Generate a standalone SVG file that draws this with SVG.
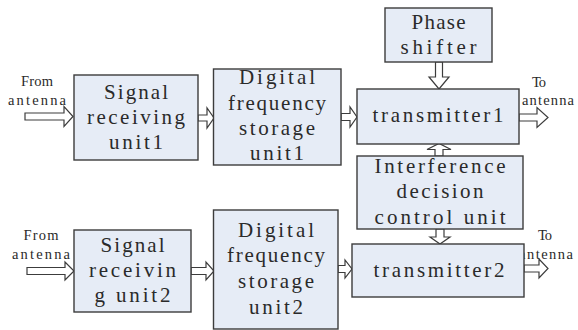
<svg xmlns="http://www.w3.org/2000/svg" width="578" height="330" viewBox="0 0 578 330">
  <style>
    .box { fill: #e6ecf6; stroke: #3c3c3c; stroke-width: 1.4; }
    .arrow { fill: #ffffff; stroke: #3c3c3c; stroke-width: 1.2; stroke-linejoin: miter; }
    .t { font-family: "Liberation Serif", "DejaVu Serif", serif; font-size: 21px; fill: #2a2a2a; text-anchor: middle; }
    .s { font-family: "Liberation Serif", "DejaVu Serif", serif; font-size: 14.5px; fill: #2a2a2a; text-anchor: middle; }
  </style>
  <rect width="578" height="330" fill="#ffffff"/>

  <!-- block arrows -->
  <g id="connectors">
    <polygon class="arrow" points="25,113 64,113 64,106.5 73,116.5 64,126.5 64,120 25,120"/>
    <polygon class="arrow" points="198,115 207,115 207,108 214,118 207,128 207,121 198,121"/>
    <polygon class="arrow" points="341,113.5 350,113.5 350,107 357,117 350,127 350,120.5 341,120.5"/>
    <polygon class="arrow" points="519,114 537,114 537,107.5 548,117.5 537,127.5 537,121 519,121"/>
    <polygon class="arrow" points="27,267.5 65,267.5 65,262 74,271 65,280 65,274.5 27,274.5"/>
    <polygon class="arrow" points="191,267.5 206,267.5 206,262 214,271 206,280 206,274.5 191,274.5"/>
    <polygon class="arrow" points="338,265.5 345,265.5 345,260 352,269 345,278 345,272.5 338,272.5"/>
    <polygon class="arrow" points="524,265 539,265 539,259 548,268.5 539,278 539,272 524,272"/>
    <!-- phase shifter down to transmitter1 -->
    <polygon class="arrow" points="435.5,62 435.5,77 429,77 439,89 449,77 442.5,77 442.5,62"/>
    <!-- interference unit up to transmitter1 -->
    <polygon class="arrow" points="435,156 435,149.5 427,149.5 439,143.5 451,149.5 443,149.5 443,156"/>
    <!-- interference unit down to transmitter2 -->
    <polygon class="arrow" points="436,229 436,237 430,237 440,244 450,237 444,237 444,229"/>
  </g>

  <g id="label-in1">
    <text class="s" x="37" y="86" textLength="32" lengthAdjust="spacing">From</text>
    <text class="s" x="37" y="105" textLength="58" lengthAdjust="spacing">antenna</text>
  </g>
  <g id="label-in2">
    <text class="s" x="41" y="240" textLength="35" lengthAdjust="spacing">From</text>
    <text class="s" x="41" y="259" textLength="58" lengthAdjust="spacing">antenna</text>
  </g>
  <g id="label-out1">
    <text class="s" x="539" y="87" textLength="14" lengthAdjust="spacing">To</text>
    <text class="s" x="548" y="105" textLength="52" lengthAdjust="spacing">antenna</text>
  </g>
  <g id="label-out2">
    <text class="s" x="545" y="240" textLength="14" lengthAdjust="spacing">To</text>
    <text class="s" x="546" y="259" textLength="54" lengthAdjust="spacing">antenna</text>
  </g>

  <g id="signal-receiving-unit1">
    <rect class="box" x="74" y="75" width="124" height="85"/>
    <text class="t" x="136" y="99" textLength="64" lengthAdjust="spacing">Signal</text>
    <text class="t" x="136" y="124" textLength="98" lengthAdjust="spacing">receiving</text>
    <text class="t" x="136" y="149" textLength="54" lengthAdjust="spacing">unit1</text>
  </g>

  <g id="digital-frequency-storage-unit1">
    <rect class="box" x="213.5" y="69" width="127.5" height="96"/>
    <text class="t" x="277" y="84" textLength="76" lengthAdjust="spacing">Digital</text>
    <text class="t" x="277" y="110" textLength="98" lengthAdjust="spacing">frequency</text>
    <text class="t" x="277" y="135" textLength="76" lengthAdjust="spacing">storage</text>
    <text class="t" x="277" y="160" textLength="54" lengthAdjust="spacing">unit1</text>
  </g>

  <g id="phase-shifter">
    <rect class="box" x="385" y="8" width="107" height="54"/>
    <text class="t" x="438.5" y="29" textLength="54" lengthAdjust="spacing">Phase</text>
    <text class="t" x="438.5" y="54" textLength="76" lengthAdjust="spacing">shifter</text>
  </g>

  <g id="transmitter1">
    <rect class="box" x="357" y="89" width="162" height="55"/>
    <text class="t" x="438" y="122" textLength="131" lengthAdjust="spacing">transmitter1</text>
  </g>

  <g id="interference-decision-control-unit">
    <rect class="box" x="357" y="156" width="166" height="73"/>
    <text class="t" x="440" y="173" textLength="131" lengthAdjust="spacing">Interference</text>
    <text class="t" x="440" y="198" textLength="87" lengthAdjust="spacing">decision</text>
    <text class="t" x="440" y="224" textLength="131" lengthAdjust="spacing">control unit</text>
  </g>

  <g id="signal-receiving-unit2">
    <rect class="box" x="74" y="230" width="117" height="82"/>
    <text class="t" x="132.5" y="252" textLength="64" lengthAdjust="spacing">Signal</text>
    <text class="t" x="132.5" y="277" textLength="87" lengthAdjust="spacing">receivin</text>
    <text class="t" x="132.5" y="302" textLength="76" lengthAdjust="spacing">g unit2</text>
  </g>

  <g id="digital-frequency-storage-unit2">
    <rect class="box" x="213.5" y="210" width="124.5" height="119"/>
    <text class="t" x="276" y="237" textLength="76" lengthAdjust="spacing">Digital</text>
    <text class="t" x="276" y="262" textLength="98" lengthAdjust="spacing">frequency</text>
    <text class="t" x="276" y="288" textLength="76" lengthAdjust="spacing">storage</text>
    <text class="t" x="276" y="314" textLength="54" lengthAdjust="spacing">unit2</text>
  </g>

  <g id="transmitter2">
    <rect class="box" x="352" y="244" width="172" height="53"/>
    <text class="t" x="439" y="277" textLength="131" lengthAdjust="spacing">transmitter2</text>
  </g>
</svg>
